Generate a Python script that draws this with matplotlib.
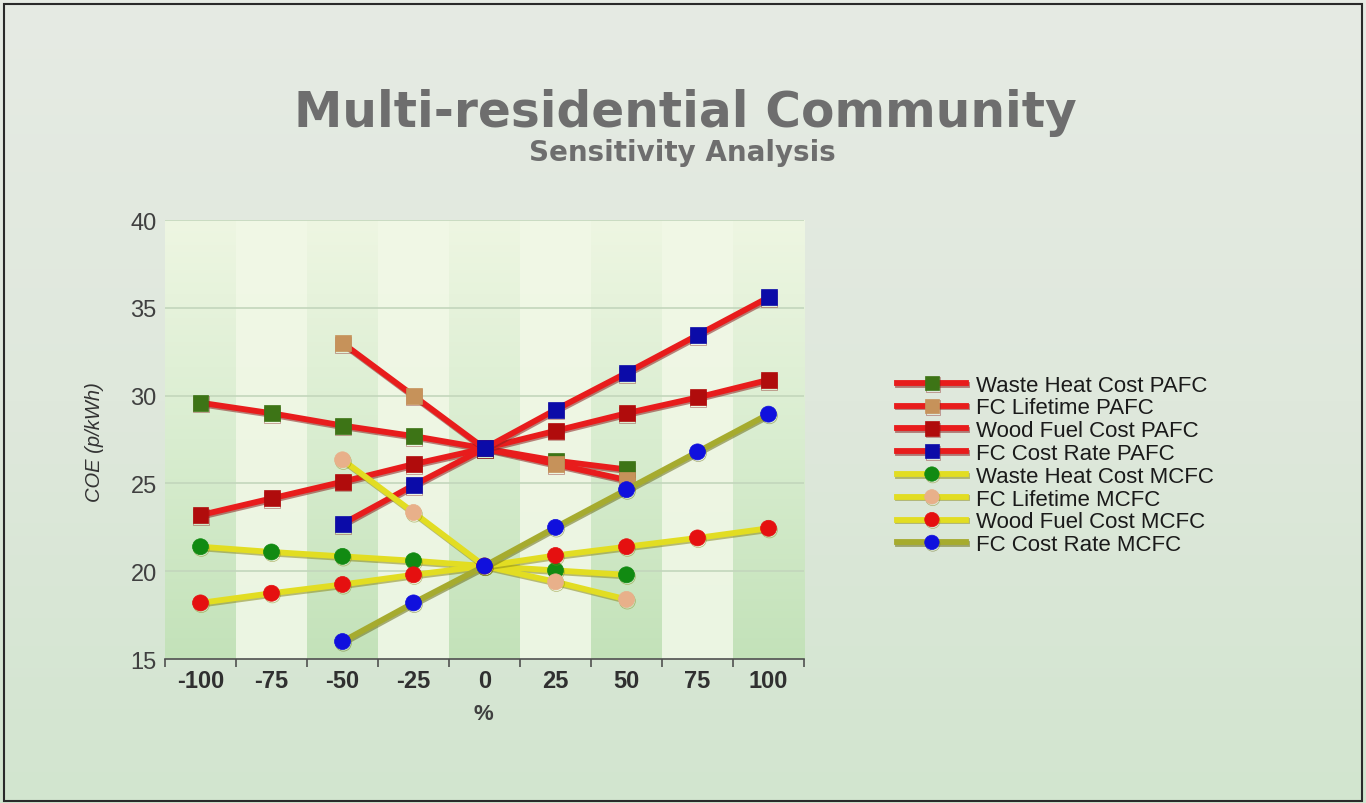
"""Multi-residential Community sensitivity analysis: COE vs % change for PAFC / MCFC."""

import numpy as np
import matplotlib
matplotlib.use("Agg")
import matplotlib.pyplot as plt
import matplotlib.patheffects as pe
from matplotlib.colors import LinearSegmentedColormap
from matplotlib.patches import Rectangle

nan = np.nan

# x categories (% change)
pct = ["-100", "-75", "-50", "-25", "0", "25", "50", "75", "100"]

# COE (p/kWh)
waste_heat_pafc = [29.6, 29.0, 28.3, 27.7, 27.0, 26.3, 25.8, nan, nan]
fc_lifetime_pafc = [nan, nan, 33.0, 30.0, 27.0, 26.1, 25.2, nan, nan]
wood_fuel_pafc = [23.2, 24.15, 25.1, 26.1, 27.0, 28.0, 29.0, 29.9, 30.9]
fc_cost_rate_pafc = [nan, nan, 22.7, 24.9, 27.0, 29.2, 31.3, 33.45, 35.6]
waste_heat_mcfc = [21.4, 21.1, 20.85, 20.6, 20.3, 20.05, 19.8, nan, nan]
fc_lifetime_mcfc = [nan, nan, 26.35, 23.35, 20.3, 19.4, 18.4, nan, nan]
wood_fuel_mcfc = [18.2, 18.75, 19.25, 19.8, 20.3, 20.9, 21.4, 21.9, 22.45]
fc_cost_rate_mcfc = [nan, nan, 16.0, 18.2, 20.3, 22.5, 24.65, 26.8, 28.95]

labels = [
    "Waste Heat Cost PAFC", "FC Lifetime PAFC", "Wood Fuel Cost PAFC", "FC Cost Rate PAFC",
    "Waste Heat Cost MCFC", "FC Lifetime MCFC", "Wood Fuel Cost MCFC", "FC Cost Rate MCFC",
]
series = [
    waste_heat_pafc, fc_lifetime_pafc, wood_fuel_pafc, fc_cost_rate_pafc,
    waste_heat_mcfc, fc_lifetime_mcfc, wood_fuel_mcfc, fc_cost_rate_mcfc,
]
marker_colors = ["#3d7416", "#c6925a", "#b00c0c", "#0b0ba8",
                 "#118a12", "#e8b08a", "#e51010", "#1010dd"]
line_colors = ["#e81c1c"] * 4 + ["#e2dd22"] * 3 + ["#a6ab2e"]
shadow_colors = ["#8a2020"] * 4 + ["#8a8a1a"] * 3 + ["#6b6e18"]
markers = ["s"] * 4 + ["o"] * 4

fig = plt.figure(figsize=(13.66, 8.04), dpi=100)

# page background gradient
bg = fig.add_axes([0, 0, 1, 1], zorder=-10)
bg_cmap = LinearSegmentedColormap.from_list("bg", ["#e6ebe4", "#dfe8dc", "#d2e5cf"])
bg.imshow(np.linspace(0, 1, 256).reshape(-1, 1), cmap=bg_cmap, aspect="auto",
          extent=(0, 1, 0, 1), origin="upper")
bg.set_axis_off()
fig.add_artist(Rectangle((0.003, 0.002), 0.994, 0.992, transform=fig.transFigure,
                         fill=False, edgecolor="#2a2a2a", linewidth=1.5))

ax = fig.add_axes([0.1208, 0.179, 0.4678, 0.546])
ax.set_facecolor("none")

x = np.arange(len(pct))
ymin, ymax = 15, 40

# alternating gradient bands
dark_band = LinearSegmentedColormap.from_list("dk", ["#eef6e2", "#d9edd0", "#c3e2b9"])
light_band = LinearSegmentedColormap.from_list("lt", ["#f1f8e6", "#eef6e3", "#ebf5e2"])
grad = np.linspace(0, 1, 256).reshape(-1, 1)
for i in x:
    cmap = dark_band if i % 2 == 0 else light_band
    ax.imshow(grad, cmap=cmap, aspect="auto", origin="upper",
              extent=(i - 0.5, i + 0.5, ymin, ymax), zorder=0)

for yv in [20, 25, 30, 35, 40]:
    ax.axhline(yv, color="#c3d6bc", linewidth=1.2, zorder=1)

for vals, lab, mc, lc, sc, mk in zip(series, labels, marker_colors, line_colors,
                                     shadow_colors, markers):
    ax.plot(x, vals, color=lc, linewidth=4.2, marker=mk, markersize=11.5,
            markerfacecolor=mc, markeredgecolor=mc, markeredgewidth=0.5,
            label=lab, zorder=3,
            path_effects=[pe.SimpleLineShadow(offset=(0.6, -1.2), shadow_color=sc, alpha=0.55),
                          pe.Normal()])

ax.set_xlim(-0.5, len(pct) - 0.5)
ax.set_ylim(ymin, ymax)

ax.set_xticks(x)
ax.set_xticklabels(pct, fontsize=17, fontweight="bold", color="#303030",
                   family="Liberation Sans")
ax.set_xticks(np.arange(len(pct) + 1) - 0.5, minor=True)
ax.tick_params(axis="x", which="major", length=0, pad=7)
ax.tick_params(axis="x", which="minor", length=6, width=1.2, color="#505050",
               direction="out")

ax.set_yticks([15, 20, 25, 30, 35, 40])
ax.set_yticklabels(["15", "20", "25", "30", "35", "40"], fontsize=17,
                   color="#404040", family="Liberation Sans")
ax.tick_params(axis="y", length=0, pad=6)

for s in ["left", "top", "right"]:
    ax.spines[s].set_visible(False)
ax.spines["bottom"].set_color("#505050")
ax.spines["bottom"].set_linewidth(1.2)

fig.text(0.0695, 0.450, "COE (p/kWh)", rotation=90, ha="center", va="center",
         fontsize=14.5, style="italic", color="#333333", family="Liberation Sans")
fig.text(0.3536, 0.111, "%", ha="center", va="center", fontsize=16,
         fontweight="bold", color="#404040", family="Liberation Sans")

fig.text(0.5015, 0.859, "Multi-residential Community", ha="center", va="center",
         fontsize=35, fontweight="bold", color="#6e6e6e", family="DejaVu Sans")
fig.text(0.4995, 0.810, "Sensitivity Analysis", ha="center", va="center",
         fontsize=20, fontweight="bold", color="#6e6e6e", family="DejaVu Sans")

leg = ax.legend(loc="center left", bbox_to_anchor=(0.657, 0.4205),
                bbox_transform=fig.transFigure, frameon=False,
                prop={"family": "Liberation Sans", "size": 16},
                handlelength=3.1, handletextpad=0.45, labelspacing=0.08,
                borderpad=0, borderaxespad=0, markerscale=0.9)
for t in leg.get_texts():
    t.set_color("#1a1a1a")

fig.savefig("out.png", dpi=100)
